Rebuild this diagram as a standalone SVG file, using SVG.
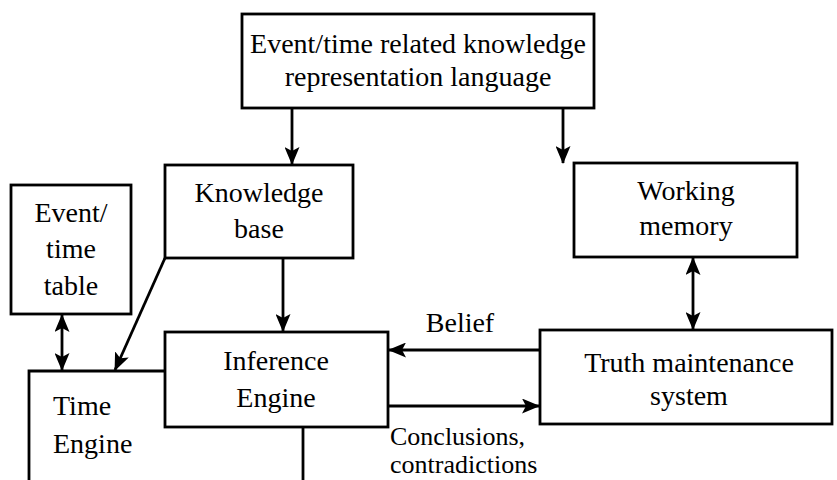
<svg xmlns="http://www.w3.org/2000/svg" width="837" height="480" viewBox="0 0 837 480">
<defs>
<style>
.box{fill:#fff;stroke:#000;stroke-width:2.8}
.t{font-family:"Liberation Serif","Times New Roman",serif;font-size:28px;fill:#000;text-anchor:middle}
.l{text-anchor:start}
.s{font-size:26px}
.c{stroke:#000;stroke-width:2.8;fill:none}
</style>
<marker id="ah" viewBox="0 0 18 15" refX="17" refY="7.5" markerWidth="18" markerHeight="15" markerUnits="userSpaceOnUse" orient="auto-start-reverse">
<path d="M0,0 L18,7.5 L0,15 L4,7.5 Z" fill="#000"/>
</marker>
</defs>
<rect width="837" height="480" fill="#fff"/>
<g id="connectors">
<line class="c" x1="292" y1="108" x2="292" y2="164" marker-end="url(#ah)"/>
<line class="c" x1="563" y1="108" x2="563" y2="163" marker-end="url(#ah)"/>
<line class="c" x1="283" y1="258" x2="283" y2="331" marker-end="url(#ah)"/>
<line class="c" x1="165" y1="258" x2="115" y2="370" marker-end="url(#ah)"/>
<line class="c" x1="62" y1="315" x2="62" y2="370" marker-start="url(#ah)" marker-end="url(#ah)"/>
<line class="c" x1="693" y1="258" x2="693" y2="329" marker-start="url(#ah)" marker-end="url(#ah)"/>
<line class="c" x1="540" y1="350" x2="389" y2="350" marker-end="url(#ah)"/>
<line class="c" x1="388" y1="406" x2="539" y2="406" marker-end="url(#ah)"/>
<line class="c" x1="303" y1="427" x2="303" y2="482"/>
<text class="t" x="460" y="332">Belief</text>
<text class="t l s" x="390" y="445">Conclusions,</text>
<text class="t l s" x="390" y="473">contradictions</text>
</g>
<g id="time-engine">
<path class="box" d="M29,485 L29,371 L165,371"/>
<text class="t l" x="53" y="415">Time</text>
<text class="t l" x="53" y="453">Engine</text>
</g>
<g id="krl">
<rect class="box" x="242" y="14" width="352" height="94"/>
<text class="t" x="418" y="53">Event/time related knowledge</text>
<text class="t" x="418" y="86">representation language</text>
</g>
<g id="knowledge-base">
<rect class="box" x="165" y="165" width="188" height="93"/>
<text class="t" x="259" y="202">Knowledge</text>
<text class="t" x="259" y="238">base</text>
</g>
<g id="event-time-table">
<rect class="box" x="11" y="185" width="120" height="129"/>
<text class="t" x="71" y="222">Event/</text>
<text class="t" x="71" y="258">time</text>
<text class="t" x="71" y="295">table</text>
</g>
<g id="inference-engine">
<rect class="box" x="165" y="332" width="223" height="95"/>
<text class="t" x="276" y="370">Inference</text>
<text class="t" x="276" y="407">Engine</text>
</g>
<g id="working-memory">
<rect class="box" x="574" y="163" width="223" height="94"/>
<text class="t" x="686" y="200">Working</text>
<text class="t" x="686" y="235">memory</text>
</g>
<g id="truth-maintenance">
<rect class="box" x="540" y="330" width="292" height="94"/>
<text class="t" x="689" y="372">Truth maintenance</text>
<text class="t" x="689" y="405">system</text>
</g>
</svg>
